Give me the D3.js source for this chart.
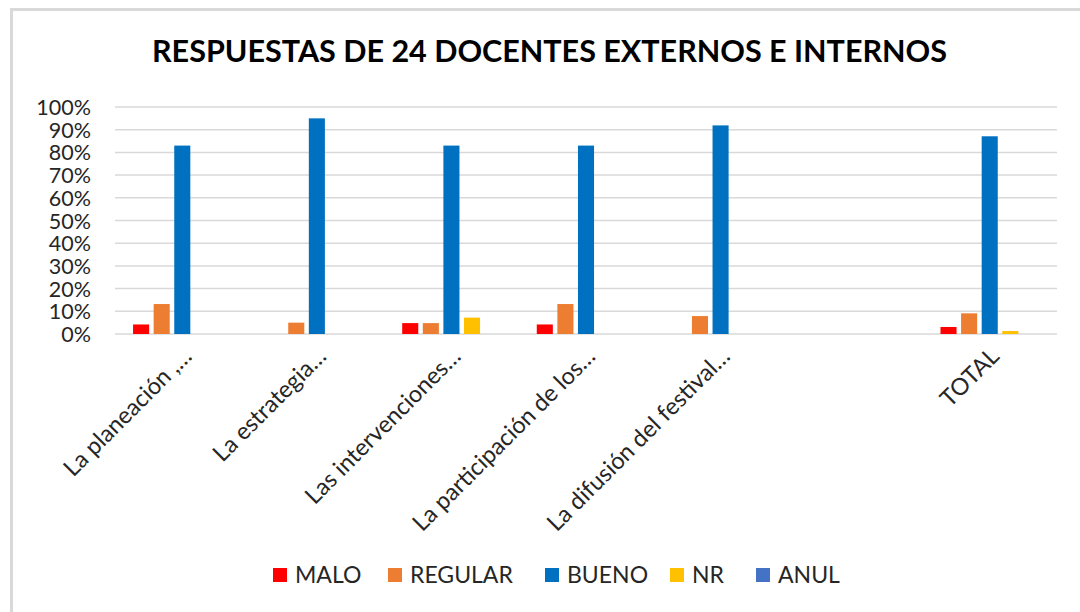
<!DOCTYPE html>
<html><head><meta charset="utf-8">
<script src="https://cdn.jsdelivr.net/npm/d3@7"></script>
<style>html,body{margin:0;padding:0;background:#fff;}svg{display:block;}</style>
</head><body><svg id="c" width="1080" height="612"></svg>
<script>
const title = "RESPUESTAS DE 24 DOCENTES EXTERNOS E INTERNOS";
const categories = ["La planeación ,…", "La estrategia…", "Las intervenciones…", "La participación de los…", "La difusión del festival…", "", "TOTAL"];
const seriesNames = ["MALO", "REGULAR", "BUENO", "NR", "ANUL"];
const seriesColors = ["#FF0000", "#ED7D31", "#0070C0", "#FFC000", "#4472C4"];
const MALO    = [0.042, 0,     0.048, 0.042, 0,     null, 0.031];
const REGULAR = [0.132, 0.05,  0.048, 0.132, 0.079, null, 0.091];
const BUENO   = [0.83,  0.95,  0.83,  0.83,  0.919, null, 0.871];
const NR      = [0,     0,     0.072, 0,     0,     null, 0.013];
const ANUL    = [0,     0,     0,     0,     0,     null, 0];
const yTicks = [0,0.1,0.2,0.3,0.4,0.5,0.6,0.7,0.8,0.9,1];

const seriesValues = [MALO, REGULAR, BUENO, NR, ANUL];
const svg = d3.select("#c");
const font = "Lato, 'Liberation Sans', sans-serif";

// frame (top & left visible edges)
svg.append("line").attr("x1",10).attr("x2",1080).attr("y1",9.5).attr("y2",9.5).attr("stroke","#d9d9d9").attr("stroke-width",3);
svg.append("line").attr("x1",11.5).attr("x2",11.5).attr("y1",8).attr("y2",612).attr("stroke","#d9d9d9").attr("stroke-width",3);

const x0 = d3.scaleBand().domain(d3.range(categories.length)).range([115,1057]).padding(0);
const y = d3.scaleLinear().domain([0,1]).range([334,107]);
const x1 = d3.scaleBand().domain(seriesNames).paddingInner(0.22).paddingOuter(0.11);
const half = 51.5;

// title
const t = svg.append("text").attr("x",549.5).attr("y",62).attr("text-anchor","middle")
  .attr("font-family",font).attr("font-weight","bold").attr("font-size",30).attr("fill","#000").text(title);
const tl = t.node().getComputedTextLength();
if (tl > 0) t.attr("textLength",795).attr("lengthAdjust","spacingAndGlyphs");

// gridlines
svg.append("g").selectAll("line").data(yTicks).join("line")
  .attr("x1",115).attr("x2",1057).attr("y1",d=>y(d)).attr("y2",d=>y(d))
  .attr("stroke","#d9d9d9").attr("stroke-width",1.5);

// y axis labels
const yAxis = d3.axisLeft(y).tickValues(yTicks).tickFormat(d3.format(".0%")).tickSize(0).tickPadding(0);
const ya = svg.append("g").attr("transform","translate(91,0)").call(yAxis);
ya.select(".domain").remove();
ya.selectAll("text").attr("font-family",font).attr("font-size",21.5).attr("fill","#262626").attr("dy","0.35em");

// bars
const groups = svg.append("g").selectAll("g").data(categories.map((c,i)=>i)).join("g")
  .attr("transform", i => `translate(${x0(i)+x0.bandwidth()/2 - half},0)`);
x1.range([0, 2*half]);
groups.selectAll("rect").data(i => seriesNames.map((s,k)=>({s, v: seriesValues[k][i], c: seriesColors[k]})).filter(d=>d.v!=null && d.v>0))
  .join("rect")
  .attr("x", d=>x1(d.s)).attr("width", x1.bandwidth())
  .attr("y", d=>y(d.v)).attr("height", d=>y(0)-y(d.v))
  .attr("fill", d=>d.c);

// category labels
svg.append("g").selectAll("text").data(categories.map((c,i)=>({c,i}))).join("text")
  .attr("transform", d=>`translate(${x0(d.i)+x0.bandwidth()/2+5},352) rotate(-45)`)
  .attr("text-anchor","end").attr("dy","0.35em")
  .attr("font-family",font).attr("font-size",23.5).attr("fill","#262626")
  .text(d=>d.c);

// legend
const legX = [273, 388, 545, 670, 756];
const lg = svg.append("g").selectAll("g").data(seriesNames.map((s,k)=>({s,k}))).join("g")
  .attr("transform", d=>`translate(${legX[d.k]},568)`);
lg.append("rect").attr("width",14).attr("height",14).attr("fill",d=>seriesColors[d.k]);
lg.append("text").attr("x",22).attr("y",7).attr("dy","0.35em")
  .attr("font-family",font).attr("font-size",23).attr("fill","#262626").text(d=>d.s);
</script></body></html>
